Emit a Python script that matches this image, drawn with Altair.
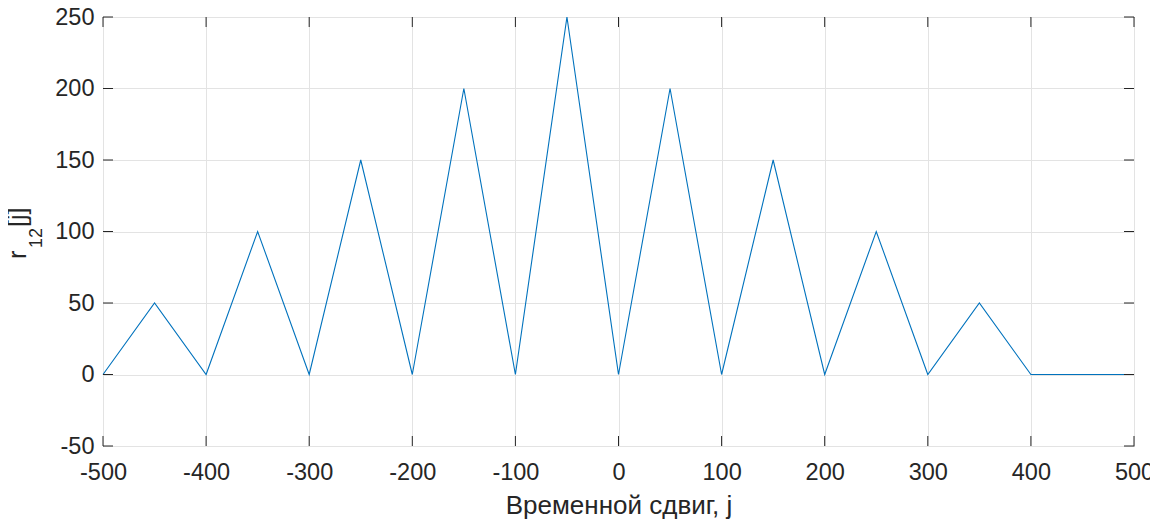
import altair as alt
import pandas as pd

lag = [-500, -450, -400, -350, -300, -250, -200, -150, -100, -50, 0,
       50, 100, 150, 200, 250, 300, 350, 400, 500]
r12 = [0, 50, 0, 100, 0, 150, 0, 200, 0, 250, 0,
       200, 0, 150, 0, 100, 0, 50, 0, 0]
x_ticks = [-500, -400, -300, -200, -100, 0, 100, 200, 300, 400, 500]
y_ticks = [-50, 0, 50, 100, 150, 200, 250]

W, H = 1031, 429
FONT = "Liberation Sans"
TXT = "#262626"
TL = 10

df = pd.DataFrame({"j": lag, "r": r12})
dx = pd.DataFrame({"t": x_ticks})
dy = pd.DataFrame({"t": y_ticks})

xs = alt.Scale(domain=[-500, 500], nice=False, zero=False)
ys = alt.Scale(domain=[-50, 250], nice=False, zero=False)

line = alt.Chart(df).mark_line(color="#0072BD", strokeWidth=1.1).encode(
    x=alt.X("j:Q", scale=xs, axis=alt.Axis(
        values=x_ticks, title="Временной сдвиг, j", grid=True, gridColor="#e3e3e3",
        ticks=False, domain=False, labelFontSize=23.5, labelColor=TXT, labelFont=FONT,
        labelPadding=14, titleFontSize=26, titleFont=FONT, titleColor=TXT,
        titleFontWeight="normal", titlePadding=9, labelFlush=False,
        labelExpr="toString(datum.value)")),
    y=alt.Y("r:Q", scale=ys, axis=alt.Axis(
        values=y_ticks, title=None, grid=True, gridColor="#e3e3e3",
        ticks=False, domain=False, labelFontSize=23.5, labelColor=TXT, labelFont=FONT,
        labelPadding=9, labelFlush=False, labelExpr="toString(datum.value)")),
)

tick_style = dict(color=TXT, strokeWidth=1)
xb = alt.Chart(dx).mark_rule(**tick_style).encode(
    x=alt.X("t:Q", scale=xs), y=alt.value(H), y2=alt.value(H - TL))
xt = alt.Chart(dx).mark_rule(**tick_style).encode(
    x=alt.X("t:Q", scale=xs), y=alt.value(0), y2=alt.value(TL))
yl = alt.Chart(dy).mark_rule(**tick_style).encode(
    y=alt.Y("t:Q", scale=ys), x=alt.value(0), x2=alt.value(TL))
yr = alt.Chart(dy).mark_rule(**tick_style).encode(
    y=alt.Y("t:Q", scale=ys), x=alt.value(W), x2=alt.value(W - TL))

yt_r = alt.Chart(pd.DataFrame({"s": ["r"]})).mark_text(
    angle=270, align="left", baseline="alphabetic", fontSize=25, font=FONT, color=TXT
).encode(text="s:N", x=alt.value(-77), y=alt.value(242))
yt_12 = alt.Chart(pd.DataFrame({"s": ["12"]})).mark_text(
    angle=270, align="left", baseline="alphabetic", fontSize=18, font=FONT, color=TXT
).encode(text="s:N", x=alt.value(-61), y=alt.value(231))
yt_j = alt.Chart(pd.DataFrame({"s": ["[j]"]})).mark_text(
    angle=270, align="left", baseline="alphabetic", fontSize=25, font=FONT, color=TXT
).encode(text="s:N", x=alt.value(-77), y=alt.value(210))

chart = alt.layer(line, xb, xt, yl, yr, yt_r, yt_12, yt_j).properties(
    width=W, height=H,
    autosize=alt.AutoSizeParams(type="none"),
    padding={"left": 95, "top": 9, "right": 16, "bottom": 80},
).configure_view(stroke=TXT, strokeWidth=1)

chart.save("out.html", embed_options={"renderer": "svg", "actions": False})
